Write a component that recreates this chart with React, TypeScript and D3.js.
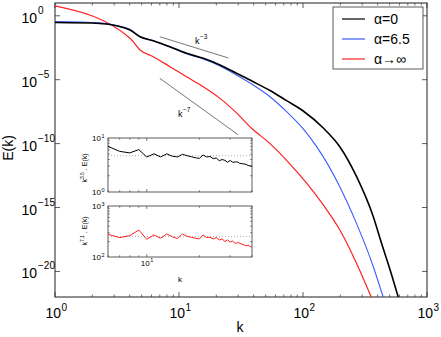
import React from 'react';
import * as d3 from 'd3';

const W = 441;
const H = 337;

// main spectra: k and log10 E(k)
const blackK = [1, 2.3, 3.2, 4.03, 4.85, 6.2, 8.45, 11.5, 15.7, 21.4, 29.1, 39.7, 54.2, 73.7, 100.4, 145.7, 198, 270.6, 369, 430, 505, 586];
const blackLogE = [-0.53, -0.6, -0.8, -1.11, -1.64, -1.95, -2.42, -2.94, -3.33, -3.85, -4.5, -5.16, -5.85, -6.64, -7.45, -8.78, -10.24, -12.59, -15.72, -17.8, -19.9, -22.0];

const blueK = [1, 2.3, 3.2, 4.03, 4.85, 6.2, 8.45, 11.5, 15.7, 21.4, 29.1, 39.7, 54.2, 73.7, 100.4, 128, 198, 270, 369, 443];
const blueLogE = [-0.45, -0.55, -0.78, -1.08, -1.62, -1.95, -2.45, -2.97, -3.38, -3.92, -4.63, -5.42, -6.33, -7.5, -8.85, -10.2, -13.37, -16.24, -19.63, -22.0];

const redK = [1, 4.03, 4.85, 6.2, 8.45, 11.5, 15.7, 21.4, 29.1, 38.5, 54.2, 78.6, 107, 145.7, 198.4, 270.6, 355];
const redLogE = [0.77, -1.76, -2.68, -3.2, -3.98, -4.77, -5.55, -6.46, -7.6, -8.8, -10.0, -11.6, -13.1, -14.8, -16.76, -19.37, -22.0];

// guide slopes
const guide3K = [7, 25];
const guide3LogE = [-1.64, -3.3];
const guide7K = [7, 30];
const guide7LogE = [-4.89, -9.31];

// inset: compensated spectra
const insetK = [6, 7, 8, 9, 10, 11, 12, 13, 14, 15, 16, 17, 18, 19, 20, 21, 22, 23, 24, 25, 26, 27, 28, 29, 30, 31, 32, 33, 34, 35, 36, 37, 38, 39, 40];
const black35 = [7.0, 5.65, 5.3, 6.1, 4.45, 5.1, 4.45, 5.1, 4.6, 4.45, 5.0, 4.7, 4.5, 4.3, 4.2, 4.85, 4.45, 4.55, 4.15, 4.25, 3.8, 4.0, 3.85, 3.55, 3.85, 3.55, 3.6, 3.6, 3.4, 3.35, 3.3, 3.25, 3.1, 3.05, 3.0];
const red71 = [279, 240, 262, 338, 223, 271, 233, 283, 250, 230, 283, 255, 244, 233, 226, 271, 240, 244, 226, 240, 216, 226, 201, 216, 195, 207, 184, 192, 187, 178, 173, 165, 171, 161, 156];
const black35Ref = 4.7;
const red71Ref = 251;

const legendItems = [
  { label: 'α=0', color: '#000000' },
  { label: 'α=6.5', color: '#3a5cff' },
  { label: 'α→∞', color: '#ff2020' },
];

const mainXTicks = [1, 10, 100, 1000];
const mainYTicks = [-20, -15, -10, -5, 0];

const font = 'Liberation Sans, Arial, Helvetica, sans-serif';
const axisColor = '#333';

export default function App() {
  const x = d3.scaleLog().domain([1, 1000]).range([55, 427]);
  const y = d3.scaleLog().domain([1e-22, 10]).range([297, 3]);
  const ex = (v: number) => Math.pow(10, v);

  const line = (ks: number[], ls: number[]) =>
    d3.line<number>()
      .x((_, i) => x(ks[i]))
      .y((_, i) => y(ex(ls[i])))
      .curve(d3.curveMonotoneX)(ls) || '';

  const minorX: number[] = [];
  for (let d = 1; d < 1000; d *= 10) for (let m = 2; m <= 9; m++) minorX.push(d * m);

  // inset scales
  const xi = d3.scaleLog().domain([6, 40]).range([108, 252]);
  const yTop = d3.scaleLog().domain([1, 10]).range([192, 138]);
  const yBot = d3.scaleLog().domain([100, 1000]).range([257, 206]);
  const insetMinorX = [6, 7, 8, 9, 20, 30, 40];

  const topPath = d3.line<number>().x((_, i) => xi(insetK[i])).y(v => yTop(v))(black35) || '';
  const botPath = d3.line<number>().x((_, i) => xi(insetK[i])).y(v => yBot(v))(red71) || '';

  const insetPanel = (yS: d3.ScaleLogarithmic<number, number>, lo: number, loExp: string, hiExp: string) => {
    const [y0, y1] = yS.range();
    const minorY: number[] = [];
    for (let m = 2; m <= 9; m++) minorY.push(lo * m);
    return (
      <g>
        <rect x={108} y={y1} width={144} height={y0 - y1} fill="#fff" stroke={axisColor} strokeWidth={0.8} />
        {[...insetMinorX, 10].map(k => (
          <g key={k}>
            <line x1={xi(k)} x2={xi(k)} y1={y0} y2={y0 - (k === 10 ? 3 : 1.8)} stroke={axisColor} strokeWidth={0.6} />
            <line x1={xi(k)} x2={xi(k)} y1={y1} y2={y1 + (k === 10 ? 3 : 1.8)} stroke={axisColor} strokeWidth={0.6} />
          </g>
        ))}
        {minorY.map(v => (
          <g key={v}>
            <line x1={108} x2={109.8} y1={yS(v)} y2={yS(v)} stroke={axisColor} strokeWidth={0.6} />
            <line x1={252} x2={250.2} y1={yS(v)} y2={yS(v)} stroke={axisColor} strokeWidth={0.6} />
          </g>
        ))}
        <text x={101} y={y1 + 3} fontSize={8} textAnchor="end">10</text>
        <text x={101.5} y={y1 - 0.5} fontSize={5.5}>{hiExp}</text>
        <text x={101} y={y0 + 3} fontSize={8} textAnchor="end">10</text>
        <text x={101.5} y={y0 - 0.5} fontSize={5.5}>{loExp}</text>
      </g>
    );
  };

  return (
    <svg width={W} height={H} style={{ position: 'absolute', left: 0, top: 0, background: '#fff' }} fontFamily={font}>
      <defs>
        <clipPath id="plotClip">
          <rect x={55} y={3} width={372} height={294} />
        </clipPath>
      </defs>

      {/* axes box */}
      <rect x={55} y={3} width={372} height={294} fill="#fff" stroke={axisColor} strokeWidth={1.1} />

      {/* x ticks */}
      {mainXTicks.map(k => (
        <g key={k}>
          <line x1={x(k)} x2={x(k)} y1={297} y2={292} stroke={axisColor} strokeWidth={0.8} />
          <line x1={x(k)} x2={x(k)} y1={3} y2={8} stroke={axisColor} strokeWidth={0.8} />
          <text x={x(k) + 6} y={318} fontSize={14} textAnchor="end">10</text>
          <text x={x(k) + 6.5} y={311} fontSize={10}>{Math.round(Math.log10(k))}</text>
        </g>
      ))}
      {minorX.map(k => (
        <g key={k}>
          <line x1={x(k)} x2={x(k)} y1={297} y2={294.5} stroke={axisColor} strokeWidth={0.7} />
          <line x1={x(k)} x2={x(k)} y1={3} y2={5.5} stroke={axisColor} strokeWidth={0.7} />
        </g>
      ))}

      {/* y ticks */}
      {mainYTicks.map(p => (
        <g key={p}>
          <line x1={55} x2={60} y1={y(ex(p))} y2={y(ex(p))} stroke={axisColor} strokeWidth={0.8} />
          <line x1={427} x2={422} y1={y(ex(p))} y2={y(ex(p))} stroke={axisColor} strokeWidth={0.8} />
          <text x={37} y={y(ex(p)) + 7} fontSize={14} textAnchor="end">10</text>
          <text x={38} y={y(ex(p)) - 2} fontSize={10}>{p === 0 ? '0' : '−' + Math.abs(p)}</text>
        </g>
      ))}

      {/* axis labels */}
      <text x={240} y={332} fontSize={14} textAnchor="middle">k</text>
      <text transform="translate(13,148) rotate(-90)" fontSize={14} textAnchor="middle">E(k)</text>

      {/* curves */}
      <g clipPath="url(#plotClip)" fill="none">
        <path d={line(redK, redLogE)} stroke="#ff2020" strokeWidth={1.2} />
        <path d={line(blueK, blueLogE)} stroke="#3a5cff" strokeWidth={1.1} />
        <path d={line(blackK, blackLogE)} stroke="#000" strokeWidth={1.6} />
      </g>

      {/* guide lines */}
      <line x1={x(guide3K[0])} y1={y(ex(guide3LogE[0]))} x2={x(guide3K[1])} y2={y(ex(guide3LogE[1]))} stroke="#555" strokeWidth={0.8} />
      <line x1={x(guide7K[0])} y1={y(ex(guide7LogE[0]))} x2={x(guide7K[1])} y2={y(ex(guide7LogE[1]))} stroke="#555" strokeWidth={0.8} />
      <text x={195} y={44} fontSize={9}>k</text>
      <text x={200} y={39} fontSize={6.5}>−3</text>
      <text x={178} y={117} fontSize={9}>k</text>
      <text x={183} y={112} fontSize={6.5}>−7</text>

      {/* inset */}
      {insetPanel(yTop, 1, '0', '1')}
      <line x1={108} x2={252} y1={yTop(black35Ref)} y2={yTop(black35Ref)} stroke="#999" strokeWidth={0.8} strokeDasharray="1,2" />
      <path d={topPath} fill="none" stroke="#000" strokeWidth={1} />
      {insetPanel(yBot, 100, '2', '3')}
      <line x1={108} x2={252} y1={yBot(red71Ref)} y2={yBot(red71Ref)} stroke="#999" strokeWidth={0.8} strokeDasharray="1,2" />
      <path d={botPath} fill="none" stroke="#ff2020" strokeWidth={1} />
      <text x={xi(10) + 3} y={266} fontSize={8} textAnchor="end">10</text>
      <text x={xi(10) + 3.5} y={262} fontSize={5.5}>1</text>
      <text x={180} y={282} fontSize={8} textAnchor="middle">k</text>
      <text transform="translate(87,168) rotate(-90)" fontSize={7} textAnchor="middle">
        k<tspan dy={-3} fontSize={5}>3.5</tspan><tspan dy={3}> . E(k)</tspan>
      </text>
      <text transform="translate(87,231) rotate(-90)" fontSize={7} textAnchor="middle">
        k<tspan dy={-3} fontSize={5}>7.1</tspan><tspan dy={3}> . E(k)</tspan>
      </text>

      {/* legend */}
      <rect x={333} y={7} width={90} height={62} fill="#fff" stroke={axisColor} strokeWidth={0.8} />
      {legendItems.map((d, i) => (
        <g key={d.label} transform={`translate(0,${19 + i * 20})`}>
          <line x1={342} x2={365} y1={0} y2={0} stroke={d.color} strokeWidth={1.2} />
          <text x={374} y={5} fontSize={14}>{d.label}</text>
        </g>
      ))}
    </svg>
  );
}
